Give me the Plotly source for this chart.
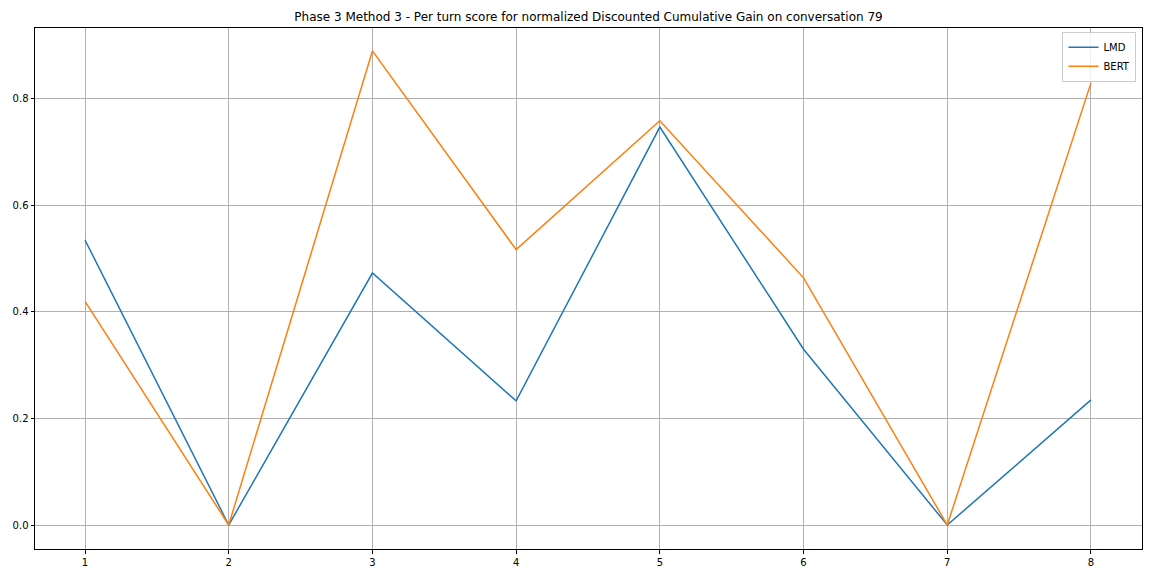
import plotly.graph_objects as go

turns = [1, 2, 3, 4, 5, 6, 7, 8]
lmd = [0.535, 0.0, 0.473, 0.233, 0.747, 0.330, 0.0, 0.235]
bert = [0.420, 0.0, 0.890, 0.517, 0.759, 0.464, 0.0, 0.830]
x_ticks = [1, 2, 3, 4, 5, 6, 7, 8]
y_ticks = [0.0, 0.2, 0.4, 0.6, 0.8]

fig = go.Figure()
fig.add_trace(go.Scatter(x=turns, y=lmd, mode="lines", name="LMD",
                         line=dict(color="#1f77b4", width=1.5)))
fig.add_trace(go.Scatter(x=turns, y=bert, mode="lines", name="BERT",
                         line=dict(color="#ff7f0e", width=1.5)))

fig.update_layout(
    width=1152, height=576,
    margin=dict(l=27, r=18, t=20, b=35, autoexpand=False),
    paper_bgcolor="white", plot_bgcolor="white",
    font=dict(family="DejaVu Sans", size=10, color="black"),
    title=dict(text="Phase 3 Method 3 - Per turn score for normalized Discounted Cumulative Gain on conversation 79",
               x=0.5, xref="paper", xanchor="center", y=1 - 9/576, yanchor="middle",
               font=dict(size=12)),
    legend=dict(x=0.995, y=0.993, xanchor="right", yanchor="top",
                bgcolor="rgba(255,255,255,0.8)", bordercolor="#cccccc", borderwidth=1,
                font=dict(size=10)),
    showlegend=True,
)
fig.update_xaxes(range=[0.652, 8.355], tickvals=x_ticks, ticktext=[str(t) for t in x_ticks],
                 showgrid=True, gridcolor="#b0b0b0", gridwidth=0.8, automargin=False,
                 showline=True, linecolor="black", linewidth=1, mirror=True,
                 ticks="outside", ticklen=3.5, tickcolor="black", zeroline=False)
fig.update_yaxes(range=[-0.045, 0.933], tickvals=y_ticks, ticktext=[f"{v:.1f}" for v in y_ticks],
                 showgrid=True, gridcolor="#b0b0b0", gridwidth=0.8, automargin=False,
                 showline=True, linecolor="black", linewidth=1, mirror=True,
                 ticks="outside", ticklen=3.5, tickcolor="black", zeroline=False)

fig.write_html("out.html")
